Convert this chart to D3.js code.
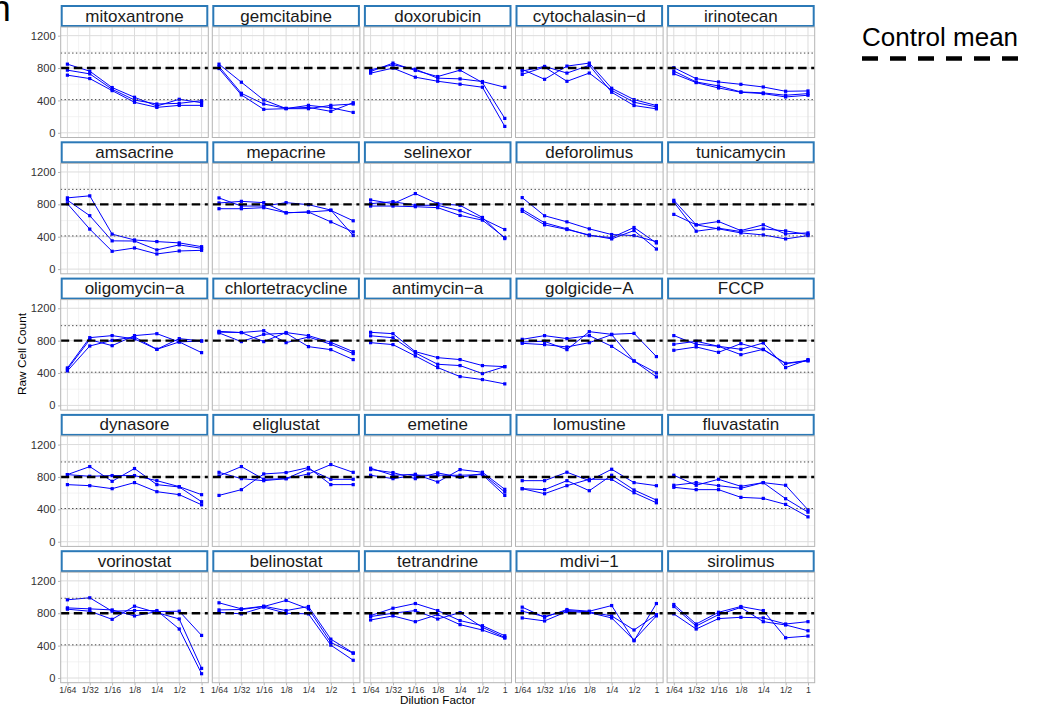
<!DOCTYPE html>
<html>
<head>
<meta charset="utf-8">
<script src="https://cdn.jsdelivr.net/npm/d3@7"></script>
<style>
  body { margin: 0; background: #fff; }
  svg { display: block; font-family: "Liberation Sans", Arial, Helvetica, sans-serif; }
</style>
</head>
<body>
<svg id="chart" width="1055" height="712"></svg>
<script>
// Compounds, one facet each (row-major order)
const drugs = [
  "mitoxantrone", "gemcitabine", "doxorubicin", "cytochalasin\u2212d", "irinotecan",
  "amsacrine", "mepacrine", "selinexor", "deforolimus", "tunicamycin",
  "oligomycin\u2212a", "chlortetracycline", "antimycin\u2212a", "golgicide\u2212A", "FCCP",
  "dynasore", "eliglustat", "emetine", "lomustine", "fluvastatin",
  "vorinostat", "belinostat", "tetrandrine", "mdivi\u22121", "sirolimus"
];

// Dilution series (x axis)
const dilutions = ["1/64", "1/32", "1/16", "1/8", "1/4", "1/2", "1"];

// y axis ticks
const yTicks = [0, 400, 800, 1200];
const yMinorTicks = [200, 600, 1000];

// Control wells: mean and lower/upper limits
const controlMean = 800;
const controlLimits = [410, 985];

// Raw cell counts, replicate 1 (one row of 7 dilutions per compound)
const rep1 = [
  [848, 761, 559, 439, 331, 414, 372],
  [848, 625, 405, 300, 339, 310, 252],
  [778, 840, 786, 675, 666, 633, 563],
  [784, 661, 824, 861, 550, 410, 337],
  [804, 669, 628, 599, 566, 513, 517],
  [880, 905, 432, 360, 340, 324, 277],
  [879, 779, 779, 821, 796, 729, 415],
  [854, 808, 933, 808, 788, 638, 377],
  [883, 659, 584, 497, 427, 414, 339],
  [850, 547, 588, 476, 547, 435, 447],
  [463, 837, 862, 821, 693, 825, 796],
  [915, 900, 788, 900, 862, 779, 664],
  [903, 886, 664, 590, 566, 492, 479],
  [816, 862, 825, 862, 730, 549, 352],
  [862, 755, 730, 693, 771, 467, 566],
  [829, 928, 746, 904, 705, 676, 494],
  [812, 928, 771, 779, 899, 771, 771],
  [908, 821, 833, 738, 891, 858, 647],
  [754, 754, 858, 754, 895, 730, 692],
  [821, 697, 771, 684, 730, 697, 394],
  [966, 991, 825, 833, 833, 605, 53],
  [929, 854, 887, 833, 883, 480, 310],
  [771, 862, 920, 833, 709, 646, 522],
  [875, 750, 846, 825, 895, 460, 920],
  [908, 667, 812, 883, 833, 497, 518]
];

// Raw cell counts, replicate 2
const rep2 = [
  [774, 728, 538, 405, 356, 364, 397],
  [819, 488, 356, 302, 314, 265, 372],
  [757, 861, 770, 695, 774, 621, 178],
  [722, 812, 636, 738, 525, 378, 320],
  [763, 628, 579, 505, 493, 464, 484],
  [851, 660, 349, 347, 237, 299, 257],
  [817, 837, 821, 696, 705, 725, 597],
  [808, 833, 788, 788, 721, 622, 489],
  [738, 572, 497, 414, 389, 514, 323],
  [829, 468, 505, 464, 497, 472, 427],
  [447, 812, 738, 862, 886, 784, 652],
  [905, 900, 923, 775, 845, 755, 640],
  [860, 836, 648, 508, 492, 393, 479],
  [784, 792, 689, 911, 878, 890, 603],
  [755, 792, 730, 627, 693, 520, 557],
  [829, 808, 817, 817, 754, 680, 581],
  [572, 643, 837, 854, 916, 705, 705],
  [891, 854, 779, 850, 796, 841, 614],
  [655, 643, 754, 630, 821, 639, 514],
  [697, 730, 692, 659, 730, 531, 365],
  [866, 854, 841, 767, 821, 825, 526],
  [841, 846, 883, 958, 854, 439, 306],
  [759, 800, 833, 729, 808, 626, 501],
  [825, 759, 833, 817, 767, 593, 783],
  [883, 642, 783, 871, 696, 655, 584]
];

// Raw cell counts, replicate 3
const rep3 = [
  [712, 670, 521, 377, 314, 339, 339],
  [794, 468, 290, 298, 298, 339, 356],
  [737, 799, 687, 637, 600, 563, 79],
  [763, 820, 738, 833, 501, 337, 296],
  [730, 620, 554, 501, 484, 443, 464],
  [808, 494, 220, 261, 187, 224, 232],
  [746, 746, 759, 696, 705, 584, 460],
  [779, 779, 771, 759, 663, 605, 390],
  [713, 547, 489, 422, 373, 476, 248],
  [676, 547, 497, 447, 422, 373, 414],
  [426, 734, 804, 845, 693, 784, 796],
  [895, 788, 878, 892, 726, 689, 566],
  [775, 751, 611, 467, 356, 319, 266],
  [767, 751, 722, 775, 874, 549, 401],
  [681, 722, 656, 763, 689, 516, 549],
  [705, 692, 655, 730, 618, 581, 456],
  [857, 779, 754, 779, 837, 953, 857],
  [821, 779, 821, 821, 821, 829, 572],
  [655, 593, 692, 771, 771, 605, 481],
  [672, 643, 643, 548, 535, 461, 307],
  [850, 825, 725, 887, 808, 729, 119],
  [812, 792, 875, 800, 792, 406, 219],
  [717, 767, 696, 783, 659, 593, 493],
  [742, 705, 821, 808, 742, 468, 767],
  [792, 605, 734, 750, 742, 667, 696]
];

const replicates = [rep1, rep2, rep3];

// ---- layout ----
const nCols = 5, nRows = 5;
const col0 = 60.7, colStep = 151.6, panelW = 147.6;
const row0 = 5, rowStep = 136.3, stripH = 22, plotH = 110.5;

const blue = "#0000ff";
const stripBlue = "#2b79b7";
const gridMajor = "#dcdcdc";
const gridMinor = "#ececec";
const borderGrey = "#b5b5b5";

const svg = d3.select("#chart");
svg.append("rect").attr("width", 1055).attr("height", 712).attr("fill", "#fff");

const x = d3.scalePoint().domain(dilutions).range([0, panelW]).padding(0.3);
const y = d3.scaleLinear().domain([-58, 1307]).range([plotH, 0]);

const xMid = dilutions.slice(1).map((d, i) => (x(dilutions[i]) + x(d)) / 2);

const line = d3.line()
  .x((v, i) => x(dilutions[i]))
  .y(v => y(v));

drugs.forEach((name, k) => {
  const c = k % nCols, r = Math.floor(k / nCols);
  const left = col0 + c * colStep;
  const top = row0 + r * rowStep;

  // strip
  const strip = svg.append("g").attr("transform", `translate(${left},${top})`);
  strip.append("rect")
    .attr("x", 1).attr("y", 1)
    .attr("width", panelW - 2).attr("height", stripH - 2)
    .attr("fill", "#fff").attr("stroke", stripBlue).attr("stroke-width", 2);
  strip.append("text")
    .attr("x", panelW / 2).attr("y", 16.6)
    .attr("text-anchor", "middle")
    .attr("font-size", 17).attr("fill", "#1a1a1a")
    .text(name);

  // panel
  const g = svg.append("g").attr("transform", `translate(${left},${top + stripH})`);
  g.append("rect").attr("width", panelW).attr("height", plotH).attr("fill", "#fff");

  // minor grid
  g.selectAll(".ymin").data(yMinorTicks).enter().append("line")
    .attr("x1", 0).attr("x2", panelW)
    .attr("y1", d => y(d)).attr("y2", d => y(d))
    .attr("stroke", gridMinor).attr("stroke-width", 0.6);
  g.selectAll(".xmin").data(xMid).enter().append("line")
    .attr("x1", d => d).attr("x2", d => d)
    .attr("y1", 0).attr("y2", plotH)
    .attr("stroke", gridMinor).attr("stroke-width", 0.6);
  // major grid
  g.selectAll(".ymaj").data(yTicks).enter().append("line")
    .attr("x1", 0).attr("x2", panelW)
    .attr("y1", d => y(d)).attr("y2", d => y(d))
    .attr("stroke", gridMajor).attr("stroke-width", 1);
  g.selectAll(".xmaj").data(dilutions).enter().append("line")
    .attr("x1", d => x(d)).attr("x2", d => x(d))
    .attr("y1", 0).attr("y2", plotH)
    .attr("stroke", gridMajor).attr("stroke-width", 1);

  // replicate lines and points
  replicates.forEach(rep => {
    const vals = rep[k];
    g.append("path").datum(vals)
      .attr("d", line)
      .attr("fill", "none").attr("stroke", blue).attr("stroke-width", 1);
    g.selectAll(null).data(vals).enter().append("rect")
      .attr("x", (v, i) => x(dilutions[i]) - 1.6)
      .attr("y", v => y(v) - 1.6)
      .attr("width", 3.2).attr("height", 3.2)
      .attr("fill", blue);
  });

  // control limits and mean
  g.selectAll(".lim").data(controlLimits).enter().append("line")
    .attr("x1", 0).attr("x2", panelW)
    .attr("y1", d => y(d)).attr("y2", d => y(d))
    .attr("stroke", "#444").attr("stroke-width", 1)
    .attr("stroke-dasharray", "1.4,2.4");
  g.append("line")
    .attr("x1", 0).attr("x2", panelW)
    .attr("y1", y(controlMean)).attr("y2", y(controlMean))
    .attr("stroke", "#000").attr("stroke-width", 2.4)
    .attr("stroke-dasharray", "8.5,4.6");

  // panel border
  g.append("rect").attr("width", panelW).attr("height", plotH)
    .attr("fill", "none").attr("stroke", borderGrey).attr("stroke-width", 1);

  // axes on outer facets
  if (c === 0) {
    const ax = g.append("g").call(
      d3.axisLeft(y).tickValues(yTicks).tickFormat(d3.format("d")).tickSize(2.7).tickPadding(2.4));
    ax.select(".domain").remove();
    ax.selectAll("line").attr("stroke", borderGrey);
    ax.selectAll("text").attr("font-size", 11.2).attr("fill", "#333")
      .attr("font-family", "Liberation Sans, Arial, sans-serif");
  }
  if (r === nRows - 1) {
    const ax = g.append("g").attr("transform", `translate(0,${plotH})`)
      .call(d3.axisBottom(x).tickSize(2.7).tickPadding(1.4));
    ax.select(".domain").remove();
    ax.selectAll("line").attr("stroke", borderGrey);
    ax.selectAll("text").attr("font-size", 8.8).attr("fill", "#333")
      .attr("font-family", "Liberation Sans, Arial, sans-serif");
  }
});

// axis titles
svg.append("text")
  .attr("transform", "translate(26,354) rotate(-90)")
  .attr("text-anchor", "middle").attr("font-size", 11.8).attr("fill", "#000")
  .text("Raw Cell Count");
svg.append("text")
  .attr("x", col0 + (nCols - 1) * colStep / 2 + panelW / 2).attr("y", 704)
  .attr("text-anchor", "middle").attr("font-size", 11.7).attr("fill", "#000")
  .text("Dilution Factor");

// legend
svg.append("text")
  .attr("x", 862).attr("y", 46)
  .attr("font-size", 26).attr("fill", "#000")
  .text("Control mean");
svg.append("line")
  .attr("x1", 862).attr("x2", 1018)
  .attr("y1", 58.5).attr("y2", 58.5)
  .attr("stroke", "#000").attr("stroke-width", 4.5)
  .attr("stroke-dasharray", "16,12");

// figure panel letter
svg.append("text")
  .attr("x", -9.2).attr("y", 21)
  .attr("font-size", 36).attr("fill", "#000")
  .text("h");
</script>
</body>
</html>
